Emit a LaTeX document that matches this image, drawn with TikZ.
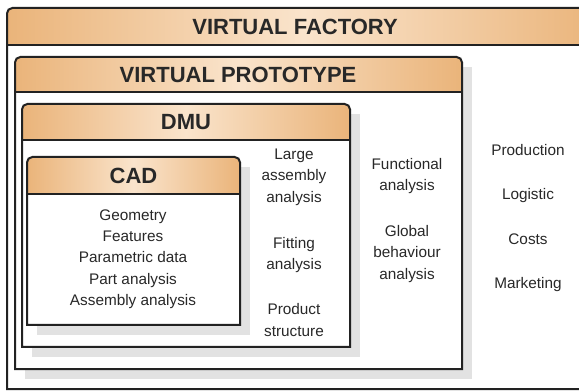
\documentclass[tikz,border=0pt]{standalone}
\usepackage{fontspec}
\setmainfont{Liberation Sans}
\definecolor{darkline}{RGB}{34,34,34}
\definecolor{bandtan}{RGB}{234,180,122}
\definecolor{bandlight}{RGB}{250,228,204}
\definecolor{shadowgray}{RGB}{226,226,226}
\definecolor{inkgray}{RGB}{40,40,40}
\tikzset{
    % Box outline style
    frame/.style={draw=darkline, line width=1.5pt},
    % Header band style
    band/.style={left color=bandtan, right color=bandtan, middle color=bandlight},
    % Drop shadow style
    dropshadow/.style={fill=shadowgray},
    % Header title style
    title/.style={font=\fontsize{16.5}{18}\selectfont\bfseries, text=inkgray},
    % Item text style
    item/.style={font=\fontsize{11.5}{16}\selectfont, text=inkgray, align=center}
}

\begin{document}
\begin{tikzpicture}[x=0.75pt,y=-0.75pt]
\clip (0,0) rectangle (579,392);
\fill[white] (0,0) rectangle (579,392);

% Virtual factory frame
\shade[band] (7,45) [rounded corners=4pt] -- (7,8) -- (600,8) [sharp corners] -- (600,45) -- cycle;
\draw[frame] (7,389) [rounded corners=4pt] -- (7,8) -- (600,8) [sharp corners] -- (600,389) -- cycle;
\draw[frame] (7,45) -- (600,45);

% Virtual prototype box
\fill[dropshadow] (25,67) rectangle (472,379);
\fill[white] (15,92) rectangle (462,369);
\shade[band] (15,92) [rounded corners=4pt] -- (15,57) -- (462,57) [sharp corners] -- (462,92) -- cycle;
\draw[frame] (15,369) [rounded corners=4pt] -- (15,57) -- (462,57) [sharp corners] -- (462,369) -- cycle;
\draw[frame] (15,92) -- (462,92);

% DMU box
\fill[dropshadow] (32,114) rectangle (360,357);
\fill[white] (22,140) rectangle (350,347);
\shade[band] (22,140) [rounded corners=4pt] -- (22,104) -- (350,104) [sharp corners] -- (350,140) -- cycle;
\draw[frame] (22,347) [rounded corners=4pt] -- (22,104) -- (350,104) [sharp corners] -- (350,347) -- cycle;
\draw[frame] (22,140) -- (350,140);

% CAD box
\fill[dropshadow] (37,167) rectangle (250,335);
\fill[white] (27,194) rectangle (240,325);
\shade[band] (27,194) [rounded corners=4pt] -- (27,157) -- (240,157) [sharp corners] -- (240,194) -- cycle;
\draw[frame] (27,325) [rounded corners=4pt] -- (27,157) -- (240,157) [sharp corners] -- (240,325) -- cycle;
\draw[frame] (27,194) -- (240,194);

% Titles
\node[title] (vf) at (295,26.5) {VIRTUAL FACTORY};
\node[title] (vp) at (238,74.5) {VIRTUAL PROTOTYPE};
\node[title] (dmu) at (186,122) {DMU};
\node[title] (cad) at (133.5,175.5) {CAD};

% CAD content
\node[item] (cadlist) at (133,259) {Geometry\\Features\\Parametric data\\Part analysis\\Assembly analysis};

% DMU content
\node[item] (large) at (294,177) {Large\\assembly\\analysis};
\node[item] (fitting) at (294,255) {Fitting\\analysis};
\node[item] (product) at (294,320) {Product\\structure};

% Virtual prototype content
\node[item] (functional) at (407,176) {Functional\\analysis};
\node[item] (global) at (407,254) {Global\\behaviour\\analysis};

% Virtual factory content
\node[item] (production) at (528,150) {Production};
\node[item] (logistic) at (528,196) {Logistic};
\node[item] (costs) at (528,239) {Costs};
\node[item] (marketing) at (528,285) {Marketing};

\end{tikzpicture}
\end{document}
